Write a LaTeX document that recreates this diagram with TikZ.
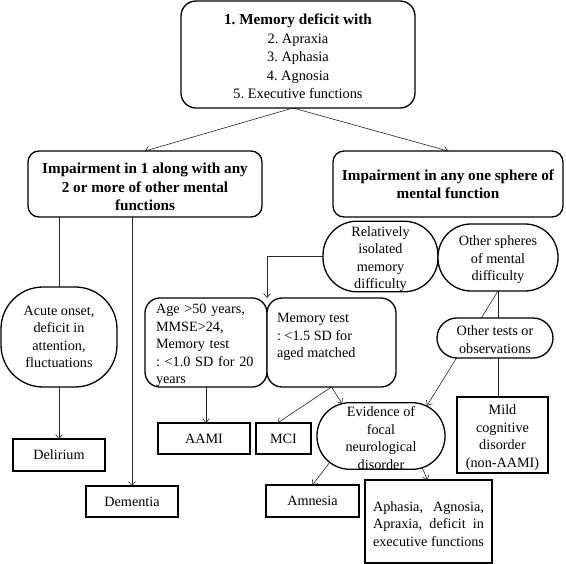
\documentclass[tikz,border=0pt]{standalone}
\usepackage{fontspec}
\setmainfont{Liberation Serif}
\usetikzlibrary{arrows.meta,calc,backgrounds}
\newcommand\firstup[1]{\rule{0pt}{#1}}
\frenchspacing
\begin{document}
\begin{tikzpicture}[x=1pt,y=-1pt,
  every node/.style={inner sep=0pt, outer sep=0pt},
  reg/.style={font=\fontsize{14.2}{17.5}\selectfont},
  bld/.style={font=\fontsize{15.2}{18.2}\selectfont\bfseries},
  rbox/.style={draw, line width=1.3pt, fill=white, rounded corners=#1, align=center},
  rbox/.default=15pt,
  sbox/.style={draw, line width=1.3pt, fill=white, align=center, reg},
  conn/.style={line width=0.6pt, black!85},
  arr/.style={conn, -{Straight Barb[length=4pt,width=7pt]}},
]
\useasboundingbox (0,0) rectangle (566,564);

\node[rbox, font=\fontsize{14.4}{18.5}\selectfont, minimum width=234pt, minimum height=107pt] (top) at (298,54.5)
  {{\fontsize{15.2}{18.5}\selectfont\bfseries\firstup{14.5pt}1. Memory deficit with}\\2. Apraxia\\3. Aphasia\\4. Agnosia\\5. Executive functions};

\node[rbox=11pt, bld, minimum width=234pt, minimum height=66pt] (L1) at (145,184)
  {\firstup{16.5pt}Impairment in 1 along with any\\2 or more of other mental\\functions};
\node[rbox=11pt, bld, minimum width=230pt, minimum height=66pt] (R1) at (448,184)
  {Impairment in any one sphere of\\mental function};

\node[rbox=42pt, reg, minimum width=116pt, minimum height=100pt] (acute) at (59,337)
  {Acute onset,\\deficit in\\attention,\\fluctuations};

\node[rbox=34pt, reg, minimum width=115pt, minimum height=69pt] (rel) at (380.5,256.5)
  {\firstup{15pt}Relatively\\isolated\\memory\\difficulty};
\node[rbox=33pt, reg, minimum width=120pt, minimum height=67pt] (oth) at (498,257.5)
  {\firstup{15pt}Other spheres\\of mental\\difficulty};
\node[rbox=20pt, reg, minimum width=116pt, minimum height=40pt] (tests) at (495,338)
  {\firstup{13pt}Other tests or\\observations};

\node[rbox=15pt, reg, minimum width=122pt, minimum height=89pt, text width=100pt, align=left] (age) at (206,342.5)
  {\firstup{16pt}Age >50 years,\\MMSE>24,\\Memory test\\: <1.0 SD for 20\\years};
\node[rbox=15pt, reg, minimum width=129pt, minimum height=89pt] (mem) at (331.5,342.5)
  {\parbox[c][89pt][t]{109pt}{\vspace*{15.5pt}Memory test\\: <1.5 SD for\\aged matched}};

\node[sbox, minimum width=92pt, minimum height=31pt] (aami) at (204,438.5) {AAMI};
\node[sbox, minimum width=55pt, minimum height=31pt] (mci) at (283.5,438.5) {MCI};

\node[rbox=33pt, reg, minimum width=128pt, minimum height=66pt] (evid) at (381,436)
  {\firstup{14pt}Evidence of\\focal\\neurological\\disorder};
\node[sbox, minimum width=91pt, minimum height=76pt] (mild) at (502.5,435)
  {\firstup{15pt}Mild\\cognitive\\disorder\\(non-AAMI)};

\node[sbox, minimum width=92pt, minimum height=32pt] (delir) at (59,455) {Delirium};
\node[sbox, minimum width=92pt, minimum height=31pt] (dem) at (132,501.5) {Dementia};
\node[sbox, minimum width=93pt, minimum height=32pt] (amn) at (312.5,501) {Amnesia};
\node[sbox, minimum width=127pt, minimum height=83pt] (aph) at (428.5,521.5)
  {\firstup{15pt}\makebox[111pt][s]{Aphasia, Agnosia,}\\\makebox[111pt][s]{Apraxia, deficit in}\\\makebox[111pt][s]{executive functions}};

\begin{scope}[on background layer]
\fill[white] (0,0) rectangle (566,564);
\draw[arr] ($(top.south)+(-5,0)$) -- (L1.north);
\draw[arr] ($(top.south)+(-5,0)$) -- (R1.north);
\draw[conn] (acute.north |- L1.south) -- (acute.north);
\draw[arr] (acute.south) -- (delir.north);
\draw[arr] (dem.north |- L1.south) -- (dem.north);
\draw[arr] (rel.west) -| (age.north east);
\draw[arr] (age.south) -- (age.south |- aami.north);
\draw[arr] (mem.south) -- ($(mci.north)+(-6,0)$);
\draw[arr] (mem.south) -- ($(evid.north)+(-39,1)$);
\draw[arr] (oth.south) -- ($(evid.north)+(46,3)$);
\draw[conn] (oth.south) -- (oth.south |- mild.north);
\draw[arr] ($(evid.south)+(-52,-6)$) -- (amn.north);
\draw[arr] ($(evid.south)+(41,-2)$) -- ($(aph.north)+(-1,0)$);
\end{scope}
\end{tikzpicture}
\end{document}
